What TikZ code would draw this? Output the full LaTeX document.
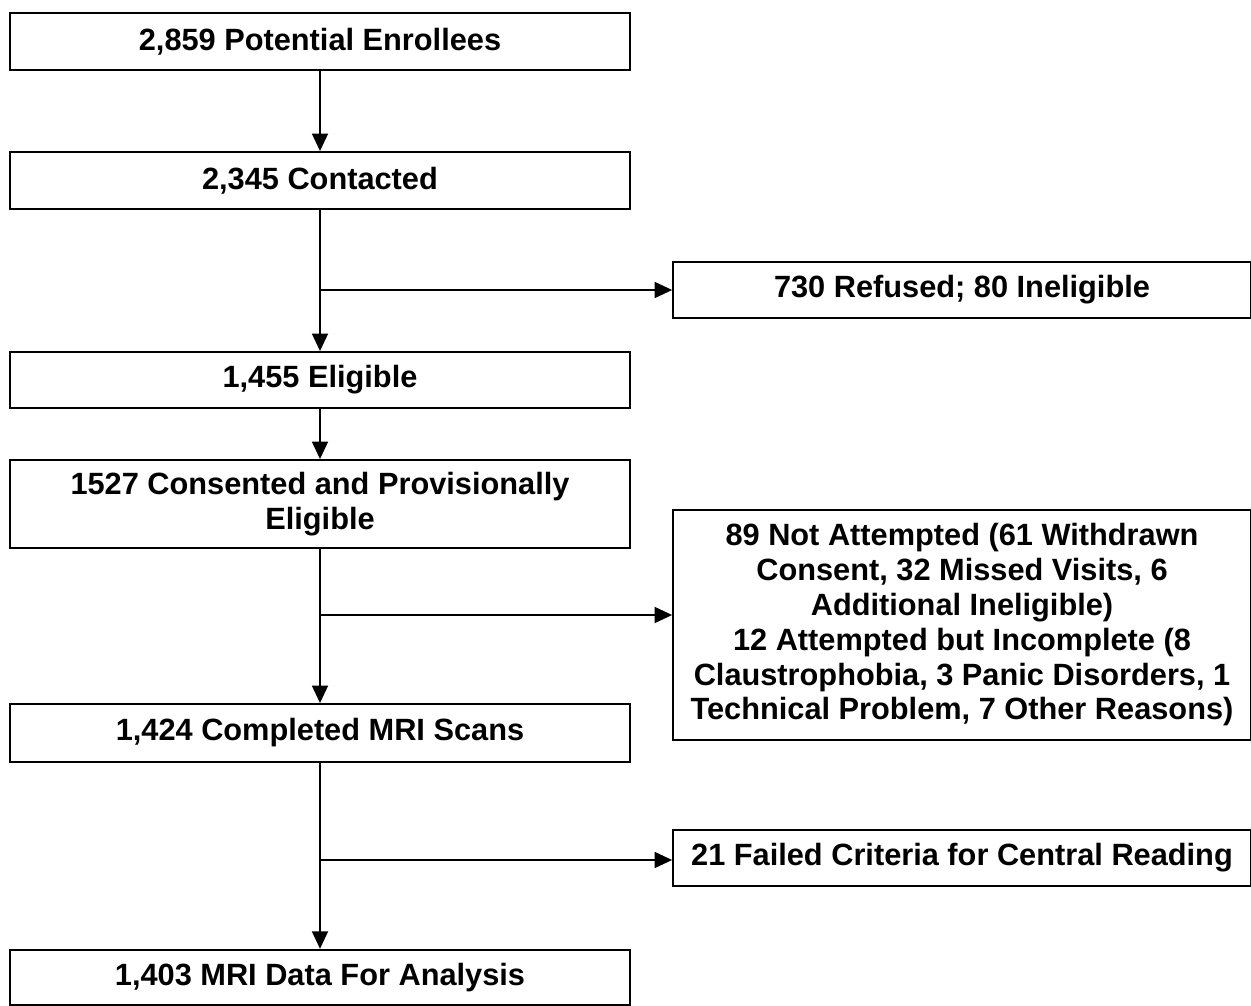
\documentclass[tikz,border=0pt]{standalone}
\usepackage{fontspec}
\setmainfont{Liberation Sans}
\usetikzlibrary{arrows.meta}
\begin{document}
\begin{tikzpicture}[x=0.02cm, y=-0.02cm, font=\bfseries\fontsize{17.5}{19.8}\selectfont,
			box/.style={draw, line width=1pt, inner sep=0pt, align=center, minimum width=12.4cm},
			side/.style={draw, line width=1pt, inner sep=0pt, align=center, minimum width=11.56cm},
			arr/.style={line width=1.4pt, -{Triangle[length=10pt, width=9pt]}}]
			\useasboundingbox (0,0) rectangle (1251,1006);
			% main column
			\node[box, minimum height=1.14cm] (B1) at (320,41.5) {2,859 Potential Enrollees};
			\node[box, minimum height=1.14cm] (B2) at (320,180.5) {2,345 Contacted};
			\node[box, minimum height=1.12cm] (B3) at (320,380) {1,455 Eligible};
			\node[box, minimum height=1.76cm] (B4) at (320,504) {1527 Consented and Provisionally\\Eligible};
			\node[box, minimum height=1.16cm] (B5) at (320,733) {1,424 Completed MRI Scans};
			\node[box, minimum height=1.11cm] (B6) at (320,977.5) {1,403 MRI Data For Analysis};
			% exclusions on the right
			\node[side, minimum height=1.12cm] (R1) at (962,290) {730 Refused; 80 Ineligible};
			\node[side, minimum height=4.6cm] (R2) at (962,625) {89 Not Attempted (61 Withdrawn\\Consent, 32 Missed Visits, 6\\Additional Ineligible)\\12 Attempted but Incomplete (8\\Claustrophobia, 3 Panic Disorders, 1\\Technical Problem, 7 Other Reasons)};
			\node[side, minimum height=1.12cm] (R3) at (962,858) {21 Failed Criteria for Central Reading};
			% branch points
			\coordinate (J1) at (320,290);
			\coordinate (J2) at (320,615);
			\coordinate (J3) at (320,860);
			\foreach \a/\b in {B1/B2,B2/B3,B3/B4,B4/B5,B5/B6}{
				\draw[arr] (\a) -- (\b);
			}
			\foreach \j/\r in {J1/R1,J2/R2,J3/R3}{
				\draw[arr] (\j) -- (\j -| \r.west);
			}
		\end{tikzpicture}
\end{document}
